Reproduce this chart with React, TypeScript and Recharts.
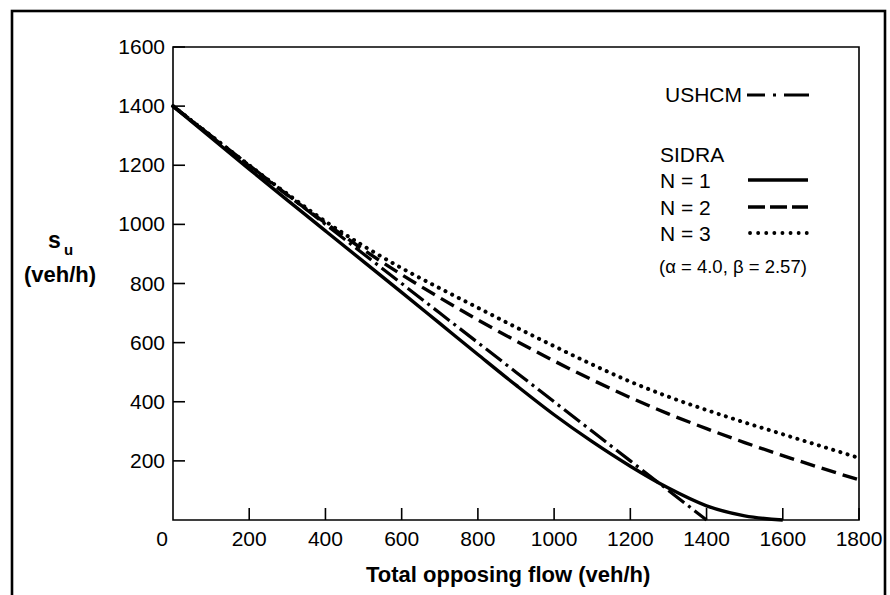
import React from "react";
import { ComposedChart, Line, XAxis, YAxis, ReferenceArea } from "recharts";

// opposing flow (veh/h), shared by all series
const flow = [0, 100, 200, 300, 400, 500, 600, 700, 800, 900, 1000, 1100, 1200, 1300, 1400, 1500, 1600, 1700, 1800];

// USHCM: straight line 1400 -> 0
const ushcm = [1400, 1300, 1200, 1100, 1000, 900, 800, 700, 600, 500, 400, 300, 200, 100, 0, null, null, null, null];

// SIDRA (alpha = 4.0, beta = 2.57)
const sidraN1 = [1400, 1293, 1187, 1082, 978, 874, 770, 665, 560, 456, 356, 265, 182, 108, 48, 14, 0, null, null];
const sidraN2 = [1400, 1298, 1197, 1099, 1005, 914, 830, 752, 677, 606, 538, 474, 414, 359, 309, 262, 218, 176, 136];
const sidraN3 = [1400, 1300, 1200, 1103, 1010, 927, 852, 784, 718, 652, 588, 526, 468, 417, 372, 330, 290, 250, 210];

const xTicks = [0, 200, 400, 600, 800, 1000, 1200, 1400, 1600, 1800];
const yTicks = [200, 400, 600, 800, 1000, 1200, 1400, 1600];

const data = flow.map((f, i) => ({
  flow: f,
  ushcm: ushcm[i],
  n1: sidraN1[i],
  n2: sidraN2[i],
  n3: sidraN3[i],
}));

const FONT = '"Liberation Sans", Arial, Helvetica, sans-serif';
const TICK_LEN = 12;

const DASH = "15 7";
const DOT = "0.1 7.4";
const DASHDOT = "20 5 3 5";

function XTick(props: any) {
  const { x, y, payload } = props;
  const v = payload.value;
  return (
    <g>
      {v !== 0 && <line x1={x} y1={y} x2={x} y2={y - TICK_LEN} stroke="#000" strokeWidth={1.6} />}
      <text x={v === 0 ? x - 11 : x} y={y + 25.5} textAnchor="middle" fontSize={21} fontFamily={FONT} fill="#000">
        {v}
      </text>
    </g>
  );
}

function YTick(props: any) {
  const { x, y, payload } = props;
  return (
    <g>
      <line x1={x} y1={y} x2={x + TICK_LEN} y2={y} stroke="#000" strokeWidth={1.6} />
      <text x={x - 8} y={y + 7} textAnchor="end" fontSize={21} fontFamily={FONT} fill="#000">
        {payload.value}
      </text>
    </g>
  );
}

export default function App() {
  return (
    <div
      style={{
        position: "fixed",
        left: 0,
        top: 0,
        width: 890,
        height: 595,
        overflow: "hidden",
        background: "#fff",
      }}
    >
      <ComposedChart
        width={890}
        height={595}
        data={data}
        margin={{ top: 47, right: 31, bottom: 45, left: 113 }}
      >
        <XAxis
          dataKey="flow"
          type="number"
          domain={[0, 1800]}
          ticks={xTicks}
          height={30}
          axisLine={false}
          tickLine={false}
          tickSize={0}
          tickMargin={0}
          tick={<XTick />}
          interval={0}
        />
        <YAxis
          type="number"
          domain={[0, 1600]}
          ticks={yTicks}
          width={60}
          axisLine={false}
          tickLine={false}
          tickSize={0}
          tickMargin={0}
          tick={<YTick />}
          interval={0}
        />
        <ReferenceArea x1={0} x2={1800} y1={0} y2={1600} fill="none" stroke="#000" strokeWidth={1.6} />
        <Line
          dataKey="n3"
          type="monotone"
          stroke="#000"
          strokeWidth={4}
          strokeDasharray={DOT}
          strokeLinecap="round"
          dot={false}
          isAnimationActive={false}
        />
        <Line
          dataKey="n2"
          type="monotone"
          stroke="#000"
          strokeWidth={3.4}
          strokeDasharray={DASH}
          dot={false}
          isAnimationActive={false}
        />
        <Line
          dataKey="ushcm"
          type="linear"
          stroke="#000"
          strokeWidth={3.2}
          strokeDasharray={DASHDOT}
          dot={false}
          isAnimationActive={false}
        />
        <Line
          dataKey="n1"
          type="monotone"
          stroke="#000"
          strokeWidth={3.4}
          dot={false}
          isAnimationActive={false}
        />
      </ComposedChart>

      <svg
        width={890}
        height={595}
        style={{ position: "absolute", left: 0, top: 0, pointerEvents: "none" }}
        fontFamily={FONT}
      >
        {/* outer frame */}
        <rect x={12} y={11} width={873} height={600} fill="none" stroke="#000" strokeWidth={2.6} />

        {/* y title */}
        <text x={48} y={248} fontSize={23} fontWeight="bold">s</text>
        <text x={64} y={255} fontSize={15} fontWeight="bold">u</text>
        <text x={60} y={282} fontSize={22} fontWeight="bold" textAnchor="middle">(veh/h)</text>

        {/* x title */}
        <text x={366} y={582} fontSize={22} fontWeight="bold">Total opposing flow (veh/h)</text>

        {/* legend */}
        <text x={742} y={102} fontSize={21} textAnchor="end">USHCM</text>
        <line x1={747} y1={95} x2={809} y2={95} stroke="#000" strokeWidth={3.2} strokeDasharray="18 8 3 8 25" />

        <text x={660} y={162} fontSize={21}>SIDRA</text>
        <text x={660} y={187.5} fontSize={21}>N = 1</text>
        <line x1={748} y1={180} x2={808} y2={180} stroke="#000" strokeWidth={3.4} />
        <text x={660} y={214.5} fontSize={21}>N = 2</text>
        <line x1={748} y1={207} x2={808} y2={207} stroke="#000" strokeWidth={3.4} strokeDasharray="17 5" />
        <text x={660} y={240.5} fontSize={21}>N = 3</text>
        <line x1={750} y1={233} x2={808} y2={233} stroke="#000" strokeWidth={3.8} strokeDasharray="0.1 8" strokeLinecap="round" />
        <text x={659} y={272.5} fontSize={18.5}>(α = 4.0, β = 2.57)</text>
      </svg>
    </div>
  );
}
